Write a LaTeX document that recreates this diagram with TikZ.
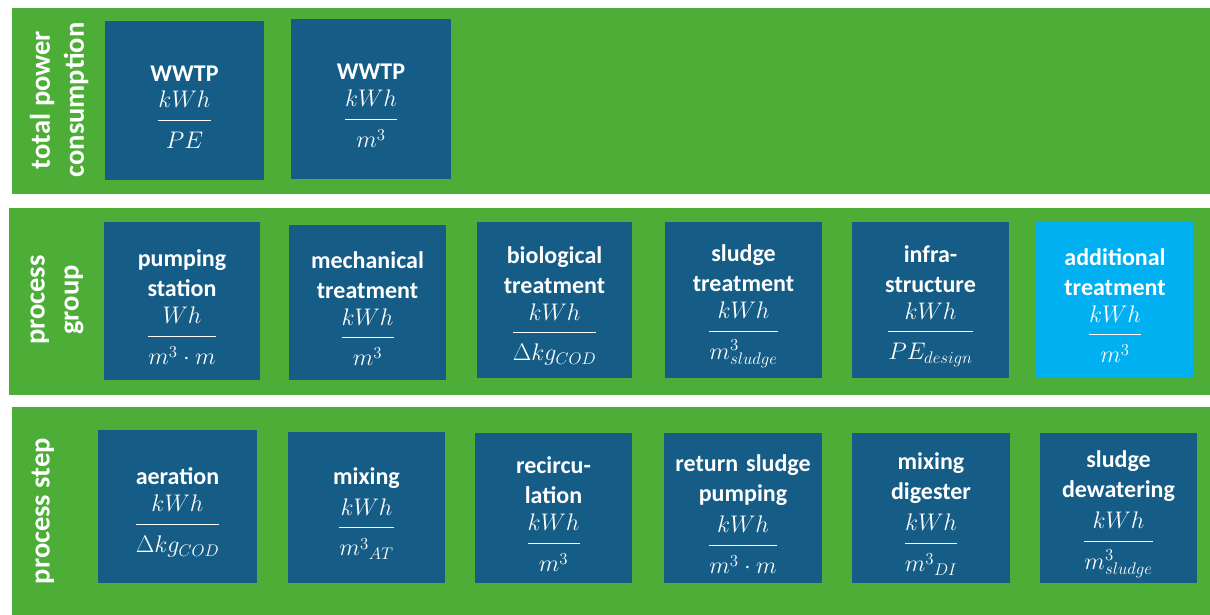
\RequirePackage{fix-cm}
\documentclass[tikz,border=0pt]{standalone}
\usepackage{fontspec}
\setmainfont{Carlito}
\definecolor{bandgreen}{HTML}{4CAD37}
\definecolor{dblue}{HTML}{155C86}
\definecolor{lblue}{HTML}{00B0F0}
\tikzset{
  band/.style={fill=bandgreen, draw=none},
  box/.style={fill=dblue, text=white, draw=none, inner sep=0pt, align=center,
    text width=150pt, font=\fontsize{24}{30}\selectfont\bfseries,
    execute at begin node=\rule{0pt}{29pt}},
  lightbox/.style={box, fill=lblue},
  sidelabel/.style={rotate=90, text=white, align=center, inner sep=0pt,
    font=\fontsize{28.5}{34}\selectfont\bfseries}
}
\newcommand{\fr}[2]{\\[9pt]$\displaystyle\frac{\rule[-11pt]{0pt}{11pt}#1}{\rule{0pt}{27pt}#2}$}
\begin{document}
\begin{tikzpicture}[x=1pt,y=-1pt]
\useasboundingbox (0,0) rectangle (1210,615);
% bands
\path[band] (12,8) rectangle (1210,194);
\path[band] (9,208) rectangle (1210,395);
\path[band] (12,407) rectangle (1210,615);
% side labels
\node[sidelabel] (l1) at (59,100) {total power\\consumption};
\node[sidelabel] (l2) at (57,300) {process\\group};
\node[sidelabel] (l3) at (43,511) {process step};
% band 1
\node[box, minimum width=159pt, minimum height=159pt] (t1) at (184.5,100.5) {WWTP\fr{kWh}{PE}};
\node[box, minimum width=160pt, minimum height=160pt] (t2) at (371,99) {WWTP\fr{kWh}{m^3}};
% band 2
\node[box, minimum width=156pt, minimum height=158pt] (g1) at (182,301) {pumping\\station\fr{Wh}{m^3\cdot m}};
\node[box, minimum width=157pt, minimum height=155pt] (g2) at (367.5,302.5) {mechanical\\treatment\fr{kWh}{m^3}};
\node[box, minimum width=155pt, minimum height=156pt] (g3) at (554.5,300) {biological\\treatment\fr{kWh}{\Delta kg_{COD}}};
\node[box, minimum width=157pt, minimum height=156pt] (g4) at (743.5,300) {sludge\\treatment\fr{kWh}{m^{3}_{sludge}}};
\node[box, minimum width=157pt, minimum height=156pt] (g5) at (930.5,300) {infra-\\structure\fr{kWh}{PE_{design}}};
\node[lightbox, minimum width=158pt, minimum height=157pt] (g6) at (1115,299.5) {additional\\treatment\fr{kWh}{m^3}};
% band 3
\node[box, minimum width=159pt, minimum height=153pt] (s1) at (177.5,506.5) {aeration\fr{kWh}{\Delta kg_{COD}}};
\node[box, minimum width=157pt, minimum height=151pt] (s2) at (366.5,507.5) {mixing\fr{kWh}{{m^3}_{AT}}};
\node[box, minimum width=157pt, minimum height=150pt] (s3) at (553.5,508) {recircu-\\lation\fr{kWh}{m^3}};
\node[box, minimum width=158pt, minimum height=150pt] (s4) at (743,508) {return sludge\\pumping\fr{kWh}{m^3\cdot m}};
\node[box, minimum width=158pt, minimum height=150pt] (s5) at (931,508) {mixing\\digester\fr{kWh}{{m^3}_{DI}}};
\node[box, minimum width=157pt, minimum height=150pt] (s6) at (1118.5,508) {sludge\\dewatering\fr{kWh}{m^{3}_{sludge}}};
\end{tikzpicture}
\end{document}
